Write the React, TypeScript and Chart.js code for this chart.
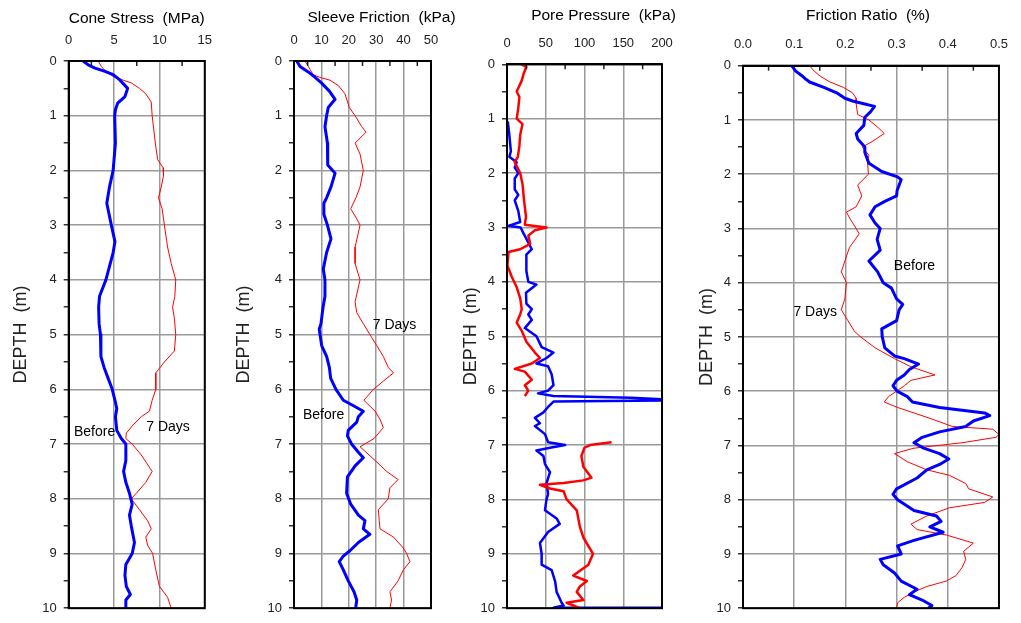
import React, { useEffect, useRef } from 'react';
import { Chart, registerables } from 'chart.js';

Chart.register(...registerables);

const FONT = "'Liberation Sans', Arial, Helvetica, sans-serif";
const BLUE = '#0000ff';
const RED = '#ff0000';
const H = 623;

// ---------------- tick labels ----------------
const depthTicks = [0, 1, 2, 3, 4, 5, 6, 7, 8, 9, 10];
const coneTicks = [0, 5, 10, 15];
const sleeveTicks = [0, 10, 20, 30, 40, 50];
const poreTicks = [0, 50, 100, 150, 200];
const ratioTicks = [0, 0.1, 0.2, 0.3, 0.4, 0.5];

// ---------------- Cone Stress (MPa) ----------------
const coneBeforeDepth = [0, 0.07, 0.13, 0.19, 0.25, 0.34, 0.5, 0.65, 0.77, 0.89, 1.0, 1.5, 2.0, 2.3, 2.6, 2.8, 3.0, 3.3, 3.5, 4.0, 4.3, 4.5, 4.8, 5.0, 5.4, 5.6, 5.8, 6.0, 6.2, 6.35, 6.5, 6.75, 6.9, 7.0, 7.3, 7.5, 7.7, 7.9, 8.1, 8.3, 8.5, 8.8, 9.0, 9.2, 9.4, 9.6, 9.75, 9.85, 10];
const coneBeforeMPa = [1.6, 2.15, 2.9, 4.0, 4.9, 5.6, 6.5, 6.2, 5.4, 5.15, 5.07, 5.15, 4.9, 4.5, 4.2, 4.45, 4.7, 5.1, 4.9, 4.1, 3.4, 3.3, 3.35, 3.5, 3.55, 3.9, 4.35, 4.8, 5.1, 5.3, 5.15, 5.3, 5.8, 6.3, 6.3, 6.05, 6.3, 6.7, 7.0, 6.7, 6.9, 7.25, 7.0, 6.3, 6.2, 6.35, 6.8, 6.3, 6.3];
const cone7dDepth = [0, 0.1, 0.2, 0.3, 0.35, 0.4, 0.5, 0.6, 0.75, 1.0, 1.5, 1.8, 1.95, 2.1, 2.3, 2.5, 2.7, 3.0, 3.4, 3.7, 4.0, 4.3, 4.5, 4.7, 5.0, 5.3, 5.5, 5.7, 6.0, 6.2, 6.4, 6.5, 6.65, 6.8, 6.9, 7.0, 7.2, 7.5, 7.7, 7.9, 8.0, 8.2, 8.4, 8.55, 8.7, 8.85, 9.0, 9.3, 9.6, 9.8, 10];
const cone7dMPa = [3.25, 3.6, 4.15, 5.07, 6.0, 6.9, 7.8, 8.5, 9.1, 9.2, 9.55, 9.8, 10.4, 10.45, 10.2, 9.9, 10.3, 10.55, 10.9, 11.3, 11.8, 11.7, 11.45, 11.65, 11.8, 11.65, 10.55, 9.6, 9.6, 9.2, 8.9, 8.0, 7.1, 6.35, 6.3, 7.0, 8.0, 9.2, 8.5, 7.45, 6.9, 7.8, 8.7, 9.1, 8.5, 8.7, 9.25, 9.6, 10.0, 10.9, 11.3];

// ---------------- Sleeve Friction (kPa) ----------------
const sleeveBeforeDepth = [0, 0.1, 0.2, 0.3, 0.4, 0.55, 0.7, 0.85, 1.0, 1.2, 1.5, 1.9, 2.05, 2.3, 2.5, 2.6, 2.8, 3.0, 3.25, 3.5, 3.8, 4.0, 4.3, 4.5, 4.8, 4.9, 5.0, 5.2, 5.4, 5.6, 5.8, 6.0, 6.2, 6.3, 6.4, 6.5, 6.6, 6.75, 6.85, 7.0, 7.15, 7.25, 7.4, 7.6, 7.9, 8.1, 8.3, 8.4, 8.55, 8.65, 8.8, 8.95, 9.05, 9.15, 9.3, 9.5, 9.7, 9.85, 10];
const sleeveBeforeKPa = [1, 2.2, 5.2, 7.7, 10, 12.9, 15, 12.5, 11.9, 11.3, 12.2, 12.3, 15, 13.5, 11.9, 10.9, 10.9, 12.2, 13.5, 11.9, 10.7, 11.3, 11.3, 10.6, 9.85, 9.2, 9.5, 10.1, 11.9, 12.9, 13.4, 15.3, 18, 21.7, 25.3, 23.5, 22.9, 19.8, 19.5, 21, 23.5, 25.3, 22.3, 19.5, 19.2, 20.7, 23.5, 25.9, 25.3, 27.7, 23.5, 20.4, 18, 16.5, 18, 19.8, 21.9, 22.9, 22.5];
const sleeve7dDepth = [0, 0.15, 0.25, 0.3, 0.35, 0.45, 0.6, 0.85, 1.0, 1.2, 1.3, 1.5, 1.7, 2.0, 2.3, 2.5, 2.7, 2.9, 3.0, 3.4, 3.7, 4.0, 4.4, 4.6, 4.8, 5.0, 5.2, 5.4, 5.6, 5.7, 5.85, 6.0, 6.2, 6.4, 6.55, 6.7, 6.9, 7.05, 7.3, 7.5, 7.65, 7.8, 8.0, 8.2, 8.4, 8.55, 8.7, 8.9, 9.0, 9.15, 9.3, 9.5, 9.7, 9.85, 10];
const sleeve7dKPa = [4, 5.8, 7, 9.5, 13.1, 16.2, 18.6, 20.2, 22.3, 24.7, 26.3, 22.3, 24.1, 25.3, 24.1, 22.6, 20.7, 23.1, 24.1, 22.3, 22.3, 24.1, 22.3, 22.9, 25.3, 27.7, 30.2, 32.6, 34.4, 36.3, 32.6, 29, 25.5, 29.6, 31.4, 32.6, 29.2, 24.1, 29.6, 33.8, 38, 35, 34.4, 30.8, 31.1, 31.4, 36.3, 39.9, 41.1, 42.3, 39.9, 38, 35, 35.6, 35];

// ---------------- Pore Pressure (kPa) ----------------
const poreBeforeDepth = [1.05, 1.3, 1.6, 1.7, 1.8, 1.9, 2.0, 2.1, 2.3, 2.4, 2.5, 2.7, 2.9, 2.97, 3.0, 3.1, 3.4, 3.5, 3.8, 4.0, 4.05, 4.2, 4.4, 4.5, 4.6, 4.7, 4.85, 5.0, 5.2, 5.3, 5.4, 5.5, 5.55, 5.7, 5.9, 6.0, 6.05, 6.1, 6.13, 6.16, 6.18, 6.2, 6.3, 6.4, 6.5, 6.6, 6.65, 6.8, 6.95, 7.0, 7.05, 7.1, 7.2, 7.35, 7.5, 7.7, 7.9, 8.0, 8.2, 8.35, 8.45, 8.6, 8.8, 9.0, 9.2, 9.3, 9.5, 9.7, 9.9, 9.95, 9.99, 9.99];
const poreBeforeKPa = [1, 3, 5, 3, 12.5, 10, 14.6, 10, 10, 14.6, 10, 14.6, 17, 2, 17.6, 21, 32, 25, 25, 27.5, 38, 24.5, 25, 32, 27.5, 32, 23, 38, 44.7, 60, 51, 38, 53, 57.6, 60, 53, 40, 60, 160, 200, 200, 60, 53, 47, 36, 42.5, 36, 49, 53, 75, 55.5, 38, 47, 49, 55.5, 51, 53, 51, 49, 64, 68, 53, 42.5, 44.7, 44.7, 57.6, 62, 64, 70.5, 73, 60, 200];
const pore7dDepth = [0, 0.05, 0.15, 0.3, 0.5, 0.6, 0.8, 1.0, 1.1, 1.3, 1.5, 1.7, 1.8, 2.0, 2.2, 2.5, 2.8, 2.95, 3.0, 3.05, 3.15, 3.3, 3.4, 3.45, 3.7, 3.9, 4.1, 4.3, 4.5, 4.6, 4.75, 4.9, 5.1, 5.3, 5.4, 5.5, 5.6, 5.65, 5.8, 5.9, 6.0, 6.1, 6.5, 6.95, 7.0, 7.05, 7.2, 7.4, 7.6, 7.65, 7.7, 7.73, 7.8, 7.85, 8.0, 8.2, 8.5, 8.7, 9.0, 9.2, 9.4, 9.5, 9.6, 9.7, 9.85, 9.9, 10];
const pore7dKPa = [19, 25, 22, 19, 12.5, 16, 14.6, 12.5, 20, 17, 16, 14, 10, 17, 20, 22, 24.5, 23, 51, 36, 27.5, 30, 17, 2, 0.5, 6, 12.5, 17, 19, 17, 12.5, 19, 25, 36, 42.5, 32, 10, 23, 32, 23, 27.5, 23, null, 135, 107, 100, 96, 98.5, 109, 98.5, 73, 42.5, 55.5, 73, 77, 90, 94, 98.5, 111, 105, 85.5, 103, 94, 90, 98.5, 77, 94];

// ---------------- Friction Ratio (%) ----------------
const ratioBeforeDepth = [0, 0.1, 0.2, 0.25, 0.3, 0.4, 0.5, 0.6, 0.65, 0.7, 0.75, 0.85, 0.95, 1.1, 1.25, 1.35, 1.5, 1.6, 1.8, 1.95, 2.05, 2.1, 2.3, 2.4, 2.5, 2.6, 2.75, 2.9, 3.0, 3.2, 3.4, 3.6, 3.8, 4.0, 4.1, 4.3, 4.4, 4.5, 4.7, 4.85, 5.0, 5.2, 5.35, 5.4, 5.5, 5.6, 5.7, 5.8, 5.9, 6.0, 6.1, 6.2, 6.3, 6.4, 6.45, 6.55, 6.65, 6.75, 6.85, 6.95, 7.05, 7.15, 7.25, 7.35, 7.45, 7.6, 7.8, 7.9, 8.0, 8.2, 8.3, 8.4, 8.5, 8.6, 8.75, 8.85, 9.0, 9.1, 9.2, 9.35, 9.5, 9.65, 9.75, 9.85, 9.95, 10];
const ratioBeforePct = [0.095, 0.103, 0.117, 0.123, 0.13, 0.158, 0.183, 0.199, 0.214, 0.236, 0.257, 0.249, 0.238, 0.236, 0.221, 0.224, 0.238, 0.238, 0.246, 0.271, 0.302, 0.309, 0.301, 0.3, 0.277, 0.258, 0.248, 0.258, 0.268, 0.262, 0.268, 0.246, 0.263, 0.274, 0.29, 0.3, 0.312, 0.305, 0.3, 0.271, 0.272, 0.277, 0.296, 0.315, 0.343, 0.325, 0.315, 0.3, 0.293, 0.301, 0.321, 0.331, 0.384, 0.472, 0.482, 0.45, 0.435, 0.384, 0.35, 0.334, 0.353, 0.384, 0.402, 0.384, 0.359, 0.34, 0.3, 0.293, 0.302, 0.334, 0.378, 0.387, 0.365, 0.391, 0.334, 0.302, 0.309, 0.268, 0.274, 0.296, 0.309, 0.34, 0.325, 0.35, 0.369, 0.362];
const ratio7dDepth = [0, 0.1, 0.2, 0.3, 0.4, 0.5, 0.6, 0.7, 0.9, 1.0, 1.15, 1.25, 1.4, 1.5, 1.65, 1.75, 2.0, 2.2, 2.4, 2.6, 2.7, 2.85, 3.0, 3.1, 3.35, 3.6, 3.8, 4.0, 4.3, 4.5, 4.7, 4.9, 5.0, 5.2, 5.4, 5.55, 5.7, 5.8, 5.9, 6.0, 6.1, 6.2, 6.3, 6.5, 6.65, 6.7, 6.8, 6.85, 6.95, 7.05, 7.15, 7.3, 7.45, 7.55, 7.7, 7.8, 7.95, 8.05, 8.15, 8.3, 8.45, 8.55, 8.65, 8.8, 8.95, 9.1, 9.25, 9.4, 9.5, 9.6, 9.7, 9.8, 9.9, 10];
const ratio7dPct = [0.13, 0.139, 0.152, 0.17, 0.196, 0.214, 0.221, 0.221, 0.224, 0.246, 0.265, 0.276, 0.252, 0.233, 0.246, 0.243, 0.245, 0.224, 0.232, 0.221, 0.202, 0.211, 0.221, 0.227, 0.208, 0.199, 0.192, 0.202, 0.199, 0.192, 0.205, 0.218, 0.23, 0.258, 0.296, 0.328, 0.375, 0.328, 0.315, 0.3, 0.284, 0.276, 0.302, 0.365, 0.409, 0.488, 0.5, 0.494, 0.428, 0.334, 0.296, 0.321, 0.359, 0.403, 0.435, 0.441, 0.488, 0.472, 0.403, 0.359, 0.328, 0.34, 0.397, 0.45, 0.431, 0.435, 0.428, 0.416, 0.397, 0.359, 0.334, 0.315, 0.302, 0.3];

// ---------------- curve labels ----------------
const coneNoteText = ['Before', '7 Days'];
const coneNoteX = [2.85, 10.95];
const coneNoteDepth = [6.78, 6.7];
const sleeveNoteText = ['7 Days', 'Before'];
const sleeveNoteX = [36.7, 10.8];
const sleeveNoteDepth = [4.83, 6.47];
const ratioNoteText = ['Before', '7 Days'];
const ratioNoteX = [0.335, 0.141];
const ratioNoteDepth = [3.69, 4.55];

type Series = { label: string; depth: number[]; values: (number | null)[]; color: string; width: number };
type PanelCfg = {
  key: string;
  title: string;
  ticks: number[];
  decimals: number;
  series: Series[];
  notes: { text: string[]; x: number[]; depth: number[] };
  // layout (pixels)
  left: number;
  width: number;
  plotL: number;
  plotR: number;
  plotT: number;
  plotB: number;
  titleDx: number;
  titleY: number;
  yTitlePad: number;
};

const PANELS: PanelCfg[] = [
  {
    key: 'cone', title: 'Cone Stress  (MPa)', ticks: coneTicks, decimals: 0,
    series: [
      { label: 'Before', depth: coneBeforeDepth, values: coneBeforeMPa, color: BLUE, width: 3 },
      { label: '7 Days', depth: cone7dDepth, values: cone7dMPa, color: RED, width: 1 },
    ],
    notes: { text: coneNoteText, x: coneNoteX, depth: coneNoteDepth },
    left: 0, width: 225, plotL: 68.7, plotR: 205, plotT: 61, plotB: 613, titleDx: 0, titleY: 18.5, yTitlePad: 10,
  },
  {
    key: 'sleeve', title: 'Sleeve Friction  (kPa)', ticks: sleeveTicks, decimals: 0,
    series: [
      { label: 'Before', depth: sleeveBeforeDepth, values: sleeveBeforeKPa, color: BLUE, width: 3 },
      { label: '7 Days', depth: sleeve7dDepth, values: sleeve7dKPa, color: RED, width: 1 },
    ],
    notes: { text: sleeveNoteText, x: sleeveNoteX, depth: sleeveNoteDepth },
    left: 225, width: 250, plotL: 294, plotR: 431, plotT: 61, plotB: 613, titleDx: 19, titleY: 17.5, yTitlePad: 8,
  },
  {
    key: 'pore', title: 'Pore Pressure  (kPa)', ticks: poreTicks, decimals: 0,
    series: [
      { label: '7 Days', depth: pore7dDepth, values: pore7dKPa, color: RED, width: 2.5 },
      { label: 'Before', depth: poreBeforeDepth, values: poreBeforeKPa, color: BLUE, width: 2.5 },
    ],
    notes: { text: [], x: [], depth: [] },
    left: 450, width: 240, plotL: 507, plotR: 662, plotT: 64.3, plotB: 612.7, titleDx: 19, titleY: 16, yTitlePad: 10,
  },
  {
    key: 'ratio', title: 'Friction Ratio  (%)', ticks: ratioTicks, decimals: 1,
    series: [
      { label: 'Before', depth: ratioBeforeDepth, values: ratioBeforePct, color: BLUE, width: 3 },
      { label: '7 Days', depth: ratio7dDepth, values: ratio7dPct, color: RED, width: 1 },
    ],
    notes: { text: ratioNoteText, x: ratioNoteX, depth: ratioNoteDepth },
    left: 680, width: 341, plotL: 743, plotR: 1008, plotT: 65.7, plotB: 613, titleDx: -3, titleY: 16, yTitlePad: 16,
  },
];

function inList(list: number[], v: number, tol: number) {
  return list.some((t) => Math.abs(t - v) < tol);
}

function Panel({ p }: { p: PanelCfg }) {
  const ref = useRef<HTMLCanvasElement | null>(null);

  useEffect(() => {
    const canvas = ref.current;
    if (!canvas) return;
    const xMax = p.ticks[p.ticks.length - 1];
    const majorStep = p.ticks[1] - p.ticks[0];
    const tol = majorStep * 1e-4;
    const isMajorX = (v: number) => inList(p.ticks, v, tol);
    const isMajorY = (v: number) => inList(depthTicks, v, 1e-4);

    const decor = {
      id: 'decor_' + p.key,
      afterDraw(chart: any) {
        const { ctx, chartArea: a, scales } = chart;
        const xs = scales.x;
        const ys = scales.y;
        ctx.save();
        // minor tick marks pointing into the plot from the top axis
        ctx.strokeStyle = '#222';
        ctx.lineWidth = 1.5;
        xs.ticks.forEach((t: any) => {
          if (!isMajorX(t.value)) {
            const px = xs.getPixelForValue(t.value);
            ctx.beginPath();
            ctx.moveTo(px, a.top);
            ctx.lineTo(px, a.top + 5);
            ctx.stroke();
          }
        });
        // frame
        ctx.strokeStyle = '#000';
        ctx.lineWidth = 2;
        ctx.strokeRect(a.left, a.top, a.right - a.left, a.bottom - a.top);
        // panel title
        ctx.fillStyle = '#000';
        ctx.textAlign = 'center';
        ctx.textBaseline = 'middle';
        ctx.font = `15.5px ${FONT}`;
        ctx.fillText(p.title, (a.left + a.right) / 2 + p.titleDx, p.titleY);
        // curve labels
        ctx.font = `14px ${FONT}`;
        p.notes.text.forEach((txt, i) => {
          ctx.fillText(txt, xs.getPixelForValue(p.notes.x[i]), ys.getPixelForValue(p.notes.depth[i]));
        });
        ctx.restore();
      },
    };

    const chart = new Chart(canvas, {
      type: 'scatter',
      data: {
        datasets: p.series.map((s) => ({
          label: s.label,
          data: s.depth.map((d, i) => ({ x: s.values[i] as any, y: d })),
          showLine: true,
          borderColor: s.color,
          backgroundColor: s.color,
          borderWidth: s.width,
          pointRadius: 0,
          pointHoverRadius: 0,
          tension: 0,
          spanGaps: false,
          borderJoinStyle: 'round' as const,
        })),
      },
      options: {
        responsive: false,
        animation: false,
        events: [],
        layout: {
          padding: { left: 0, top: 0, right: p.left + p.width - p.plotR, bottom: H - p.plotB },
        },
        plugins: {
          legend: { display: false },
          tooltip: { enabled: false },
        },
        scales: {
          x: {
            type: 'linear',
            position: 'top',
            min: 0,
            max: xMax,
            afterFit: (s: any) => {
              s.height = p.plotT;
            },
            ticks: {
              stepSize: majorStep / 2,
              autoSkip: false,
              maxRotation: 0,
              padding: 13,
              color: '#222',
              font: { family: FONT, size: 13 },
              callback: (v: any) => (isMajorX(Number(v)) ? Number(v).toFixed(p.decimals) : ''),
            },
            grid: {
              drawTicks: false,
              lineWidth: 1.5,
              color: (ctx: any) => (ctx.tick && isMajorX(ctx.tick.value) ? '#9a9a9a' : 'rgba(0,0,0,0)'),
            },
            border: { color: '#000', width: 2 },
          },
          y: {
            type: 'linear',
            position: 'left',
            min: 0,
            max: 10,
            reverse: true,
            afterFit: (s: any) => {
              s.width = p.plotL - p.left;
            },
            ticks: {
              stepSize: 0.5,
              autoSkip: false,
              padding: 7,
              color: '#222',
              font: { family: FONT, size: 13 },
              callback: (v: any) => (isMajorY(Number(v)) ? String(Math.round(Number(v))) : ''),
            },
            grid: {
              tickLength: 5,
              lineWidth: 1.5,
              tickColor: '#333',
              color: (ctx: any) => (ctx.tick && isMajorY(ctx.tick.value) ? '#9a9a9a' : 'rgba(0,0,0,0)'),
            },
            border: { color: '#000', width: 2 },
            title: {
              display: true,
              text: 'DEPTH  (m)',
              color: '#222',
              font: { family: FONT, size: 18 },
              padding: { top: p.yTitlePad, bottom: 0 },
            },
          },
        },
      },
      plugins: [decor],
    } as any);

    return () => chart.destroy();
  }, [p]);

  return (
    <canvas
      ref={ref}
      width={p.width}
      height={H}
      style={{ position: 'absolute', left: p.left, top: 0, width: p.width, height: H }}
    />
  );
}

export default function App() {
  return (
    <div style={{ position: 'absolute', left: 0, top: 0, width: 1021, height: H, background: '#fff' }}>
      {PANELS.map((p) => (
        <Panel key={p.key} p={p} />
      ))}
    </div>
  );
}
